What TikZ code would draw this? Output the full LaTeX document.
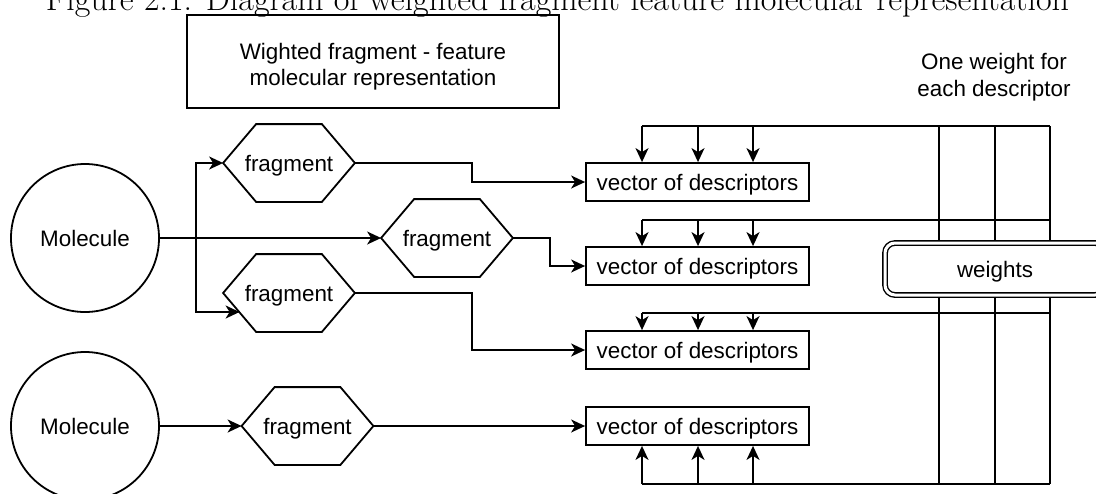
\documentclass[tikz,border=0pt]{standalone}
\usepackage{fontspec}
\setsansfont{Liberation Sans}
\usetikzlibrary{arrows.meta}

\begin{document}
\begin{tikzpicture}[x=0.5pt,y=-0.5pt,line width=0.9pt,
  every node/.style={font=\sffamily\fontsize{11.2}{13}\selectfont},
  arr/.style={-{Stealth[length=7pt,width=6.5pt,inset=2pt]}},
  lowtext/.style={text height=10.5pt,text depth=2pt},
  mol/.style={draw,circle,minimum size=74pt,inner sep=0pt,lowtext},
  frag/.style={rectangle,minimum width=65pt,minimum height=38pt,inner sep=0pt,lowtext},
  vec/.style={draw,rectangle,minimum width=111.5pt,minimum height=19pt,inner sep=0pt,lowtext}]
\useasboundingbox (0,0) rectangle (1096,493);

% caption, cut at the top
\node[font=\rmfamily\fontsize{17}{20}\selectfont,anchor=base] (caption) at (557.5,10)
  {Figure 2.1: Diagram of weighted fragment feature molecular representation};

\node[draw,minimum width=186pt,minimum height=46.5pt] (title) at (373,61.5) {};
\node[align=center] (titletext) at (title.center) [yshift=-2.5pt]
  {Wighted fragment - feature\\molecular representation};
\node[align=center,font=\sffamily\fontsize{11.2}{13.5}\selectfont] (note) at (994,77)
  {One weight for\\each descriptor};

% molecules and fragments
\node[mol] (mol1) at (85,238) {Molecule};
\node[mol] (mol2) at (85,426) {Molecule};
\node[frag] (frag1) at (289,163) {fragment};
\node[frag] (frag2) at (447,238) {fragment};
\node[frag] (frag3) at (289,293) {fragment};
\node[frag] (frag4) at (307.5,426) {fragment};
\foreach \f in {frag1,frag2,frag3,frag4}
  \draw (\f.west) -- ([xshift=16.5pt]\f.north west) -- ([xshift=-16.5pt]\f.north east)
    -- (\f.east) -- ([xshift=-16.5pt]\f.south east) -- ([xshift=16.5pt]\f.south west) -- cycle;

% descriptor vectors
\node[vec] (vec1) at (697.5,182) {vector of descriptors};
\node[vec] (vec2) at (697.5,266) {vector of descriptors};
\node[vec] (vec3) at (697.5,350) {vector of descriptors};
\node[vec] (vec4) at (697.5,426) {vector of descriptors};

\coordinate (split) at (196,238);
\draw[arr] (mol1.east) -- (frag2.west);
\draw[arr] (split) |- (frag1.west);
\draw[arr] (split) |- ([xshift=8.25pt,yshift=-9.5pt]frag3.west);
\draw[arr] (mol2.east) -- (frag4.west);

\draw[arr] (frag1.east) -- ++(117,0) |- (vec1.west);
\draw[arr] (frag2.east) -- ++(37,0) |- (vec2.west);
\draw[arr] (frag3.east) -- ++(117,0) |- (vec3.west);
\draw[arr] (frag4.east) -- (vec4.west);

% weight buses
\foreach \y in {126,220,313,484}
  \draw (642,\y) -- (1050,\y);
\foreach \x in {939,995,1050}
  \draw (\x,126) -- (\x,484);
\foreach \x in {642,698,753}{
  \coordinate (wa\x) at (\x,126);
  \coordinate (wb\x) at (\x,220);
  \coordinate (wc\x) at (\x,313);
  \coordinate (wd\x) at (\x,484);
  \draw[arr] (wa\x) -- (wa\x |- vec1.north);
  \draw[arr] (wb\x) -- (wb\x |- vec2.north);
  \draw[arr] (wc\x) -- (wc\x |- vec3.north);
  \draw[arr] (wd\x) -- (wd\x |- vec4.south);
}

\node[draw,double,double distance=1.5pt,line width=0.7pt,rounded corners=5pt,fill=white,
  minimum width=110pt,minimum height=26pt,lowtext] (weights) at (995,269) {weights};
\end{tikzpicture}
\end{document}
